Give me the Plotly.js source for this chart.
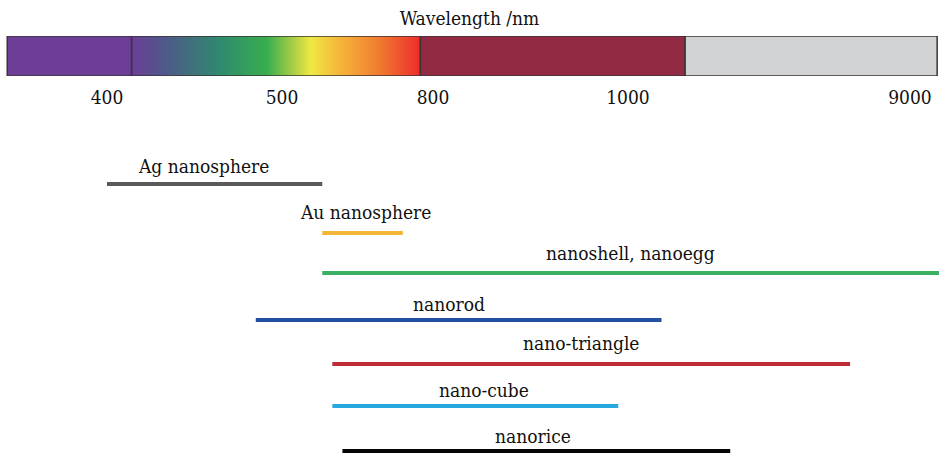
<!DOCTYPE html>
<html><head><meta charset="utf-8">
<script src="https://cdn.plot.ly/plotly-3.0.1.min.js"></script>
<style>html,body{margin:0;padding:0;background:#fff}#c{width:939px;height:453px}</style>
</head><body><div id="c"></div>
<script>
// Tick labels of the (non-linear) wavelength scale
var tickWavelengths = [400, 500, 800, 1000, 9000];
var tickLabels = ["400", "500", "800", "1000", "9000"];

// Spectrum bands (nm)
var bandNames = ["UV", "Visible", "NIR", "IR"];
var bandStart = [343, 414, 775, 2620];
var bandEnd   = [414, 775, 2620, 9770];

// Nanostructure resonance ranges (nm)
var structures = ["Ag nanosphere", "Au nanosphere", "nanoshell, nanoegg", "nanorod", "nano-triangle", "nano-cube", "nanorice"];
var rangeStart = [400, 580, 580, 485, 600, 600, 620];
var rangeEnd   = [580, 740, 10000, 1950, 7300, 990, 3900];

// ---- style / layout ----
var knotPos = [107, 282, 433, 628, 910]; // screen positions of the scale knots
function scale(w) {
  var k = tickWavelengths, p = knotPos, n = k.length;
  var i = 0;
  if (w <= k[0]) i = 0; else if (w >= k[n-1]) i = n-2;
  else { for (i = 0; i < n-1; i++) if (w >= k[i] && w <= k[i+1]) break; }
  return p[i] + (w - k[i]) * (p[i+1] - p[i]) / (k[i+1] - k[i]);
}
var rowY = [184, 233, 273, 320, 364, 406, 451];
var labelDx = [-11, 3, 0, -10, -10, 9, -3];
var labelDy = [18, 21, 20, 16, 21, 16, 15];
var lineColors = ["#5a5a5c", "#f2b535", "#3cb062", "#2450a4", "#be2d37", "#27a9df", "#050505"];
var bandColors = ["#6c3e98", null, "#922a44", "#d1d2d4"];
var gradient = [[0, "#6c3e98"], [0.1, "#52558a"], [0.3, "#2f8870"], [0.47, "#38ae4f"], [0.57, "#b6d244"], [0.62, "#efe843"], [0.72, "#f5b63a"], [0.86, "#f07a30"], [1, "#ee2b2b"]];

var font = "DejaVu Serif Condensed, DejaVu Serif, Liberation Serif, serif";
var traces = [], shapes = [], annotations = [];

for (var b = 0; b < bandNames.length; b++) {
  var x0 = scale(bandStart[b]), x1 = scale(bandEnd[b]);
  if (bandColors[b]) {
    shapes.push({type: "rect", xref: "x", yref: "y2", x0: x0, x1: x1, y0: 0, y1: 1,
      fillcolor: bandColors[b], line: {color: "#3b3436", width: 1.5}, layer: "above"});
  } else {
    traces.push({type: "scatter", xaxis: "x", yaxis: "y2", mode: "lines", hoverinfo: "skip",
      x: [x0, x1, x1, x0, x0], y: [0, 0, 1, 1, 0], fill: "toself",
      fillgradient: {type: "horizontal", colorscale: gradient},
      line: {color: "#3b3436", width: 1.5}, showlegend: false});
  }
}

for (var i = 0; i < structures.length; i++) {
  var a = scale(rangeStart[i]), e = scale(rangeEnd[i]);
  traces.push({type: "scatter", mode: "lines", x: [a, e], y: [rowY[i], rowY[i]], xaxis: "x", yaxis: "y",
    line: {color: lineColors[i], width: 4}, showlegend: false, hoverinfo: "skip"});
  annotations.push({x: (a + Math.min(e, 939)) / 2, y: rowY[i], xref: "x", yref: "y", text: structures[i],
    showarrow: false, yanchor: "middle", xshift: labelDx[i], yshift: labelDy[i],
    font: {family: font, size: 19, color: "#111"}});
}

var layout = {
  width: 939, height: 453,
  margin: {l: 0, r: 0, t: 0, b: 0},
  paper_bgcolor: "#fff", plot_bgcolor: "rgba(0,0,0,0)",
  title: {text: "Wavelength /nm", x: 0.5, xanchor: "center", y: 1 - 18/453, yanchor: "middle",
    font: {family: font, size: 19, color: "#111"}},
  xaxis: {range: [0, 939], anchor: "y2", showgrid: false, zeroline: false, showline: false,
    tickvals: tickWavelengths.map(scale), ticktext: tickLabels, ticks: "", ticklabelstandoff: 8,
    tickfont: {family: font, size: 19, color: "#111"}, fixedrange: true},
  yaxis: {domain: [0, 1], range: [453, 0], showgrid: false, zeroline: false,
    showticklabels: false, visible: false},
  yaxis2: {domain: [1 - 76/453, 1 - 36/453], range: [0, 1], showgrid: false, zeroline: false,
    showticklabels: false, visible: false},
  shapes: shapes, annotations: annotations, showlegend: false
};
Plotly.newPlot("c", traces, layout, {staticPlot: true});
</script></body></html>
